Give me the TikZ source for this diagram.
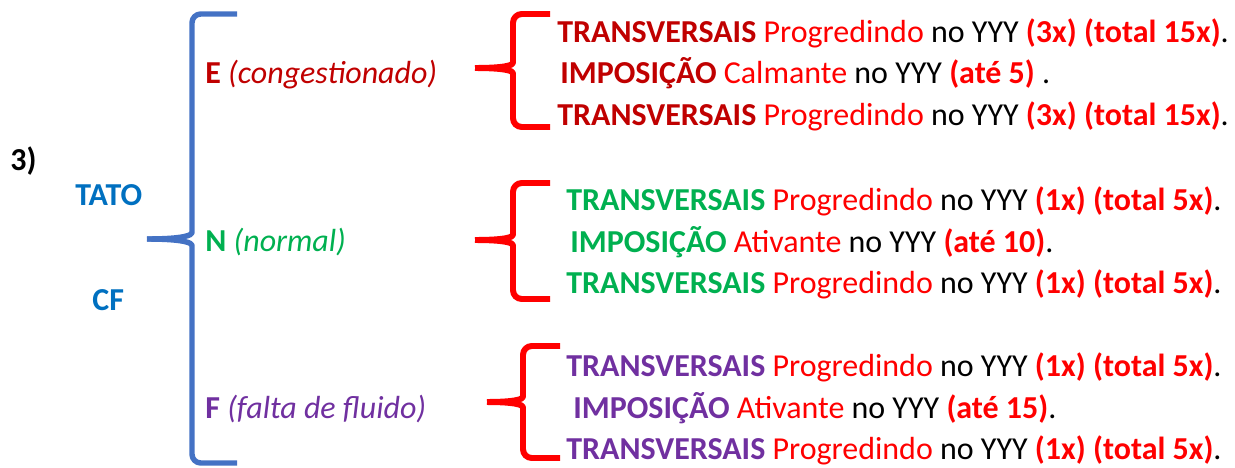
\documentclass[tikz,border=0pt]{standalone}
\usepackage{fontspec}
\setmainfont{Carlito}
\usepackage{xcolor}

\definecolor{tatoblue}{RGB}{0,112,192}
\definecolor{braceblue}{RGB}{68,114,196}
\definecolor{edark}{RGB}{192,0,0}
\definecolor{ngreen}{RGB}{0,176,80}
\definecolor{fpurple}{RGB}{112,48,160}
\definecolor{hotred}{RGB}{255,0,0}

\newcommand{\rd}[1]{\textcolor{hotred}{#1}}
\newcommand{\rdb}[1]{\textcolor{hotred}{\textbf{#1}}}

\tikzset{
  lbl/.style={anchor=base west, inner sep=0pt, font=\fontsize{18.2}{22}\selectfont},
  bluebrace/.style={draw=braceblue, line width=3.1pt, rounded corners=5pt, line join=round},
  redbrace/.style={draw=hotred, line width=3.4pt, rounded corners=5pt, line join=round}
}

\begin{document}
\begin{tikzpicture}[x=0.02cm,y=-0.02cm]
\useasboundingbox (0,0) rectangle (1235,467);

% left part
\node[lbl] (three) at (10,170) {\textbf{3)}};
\node[lbl, text=tatoblue] (tato) at (75,205) {\textbf{TATO}};
\node[lbl, text=tatoblue] (cf) at (92,310) {\textbf{CF}};

% blue brace
\draw[bluebrace] (237,14) -- (192,14) -- (192,224) .. controls (192,235) and (184,239) .. (147,239);
\draw[bluebrace] (237,463) -- (192,463) -- (192,254) .. controls (192,243) and (184,239) .. (147,239);

% E N F
\node[lbl, text=edark] (e) at (205,83) {\textbf{E} \textit{(congestionado)}};
\node[lbl, text=ngreen] (n) at (205,251) {\textbf{N} \textit{(normal)}};
\node[lbl, text=fpurple] (f) at (205,418) {\textbf{F} \textit{(falta de fluido)}};

% red braces
\draw[redbrace] (550,14) -- (513,14) -- (513,54) .. controls (513,65) and (506,68) .. (475,68);
\draw[redbrace] (550,127) -- (513,127) -- (513,82) .. controls (513,71) and (506,68) .. (475,68);
\draw[redbrace] (550,183) -- (513,183) -- (513,226) .. controls (513,237) and (506,240) .. (475,240);
\draw[redbrace] (550,299) -- (513,299) -- (513,254) .. controls (513,243) and (506,240) .. (475,240);
\draw[redbrace] (560,346) -- (523,346) -- (523,388) .. controls (523,399) and (516,402) .. (487,402);
\draw[redbrace] (560,458) -- (523,458) -- (523,416) .. controls (523,405) and (516,402) .. (487,402);

% first group
\node[lbl] (e1) at (557,42) {\textcolor{edark}{\textbf{TRANSVERSAIS}} \rd{Progredindo} no YYY \rdb{(3x) (total 15x)}.};
\node[lbl] (e2) at (560,83) {\textcolor{edark}{\textbf{IMPOSIÇÃO}} \rd{Calmante} no YYY \rdb{(até 5)} .};
\node[lbl] (e3) at (557,125) {\textcolor{edark}{\textbf{TRANSVERSAIS}} \rd{Progredindo} no YYY \rdb{(3x) (total 15x)}.};

% second group
\node[lbl] (n1) at (566,210) {\textcolor{ngreen}{\textbf{TRANSVERSAIS}} \rd{Progredindo} no YYY \rdb{(1x) (total 5x)}.};
\node[lbl] (n2) at (570,252) {\textcolor{ngreen}{\textbf{IMPOSIÇÃO}} \rd{Ativante} no YYY \rdb{(até 10)}.};
\node[lbl] (n3) at (566,293) {\textcolor{ngreen}{\textbf{TRANSVERSAIS}} \rd{Progredindo} no YYY \rdb{(1x) (total 5x)}.};

% third group
\node[lbl] (f1) at (566,376) {\textcolor{fpurple}{\textbf{TRANSVERSAIS}} \rd{Progredindo} no YYY \rdb{(1x) (total 5x)}.};
\node[lbl] (f2) at (573,418) {\textcolor{fpurple}{\textbf{IMPOSIÇÃO}} \rd{Ativante} no YYY \rdb{(até 15)}.};
\node[lbl] (f3) at (566,459) {\textcolor{fpurple}{\textbf{TRANSVERSAIS}} \rd{Progredindo} no YYY \rdb{(1x) (total 5x)}.};
\end{tikzpicture}
\end{document}
